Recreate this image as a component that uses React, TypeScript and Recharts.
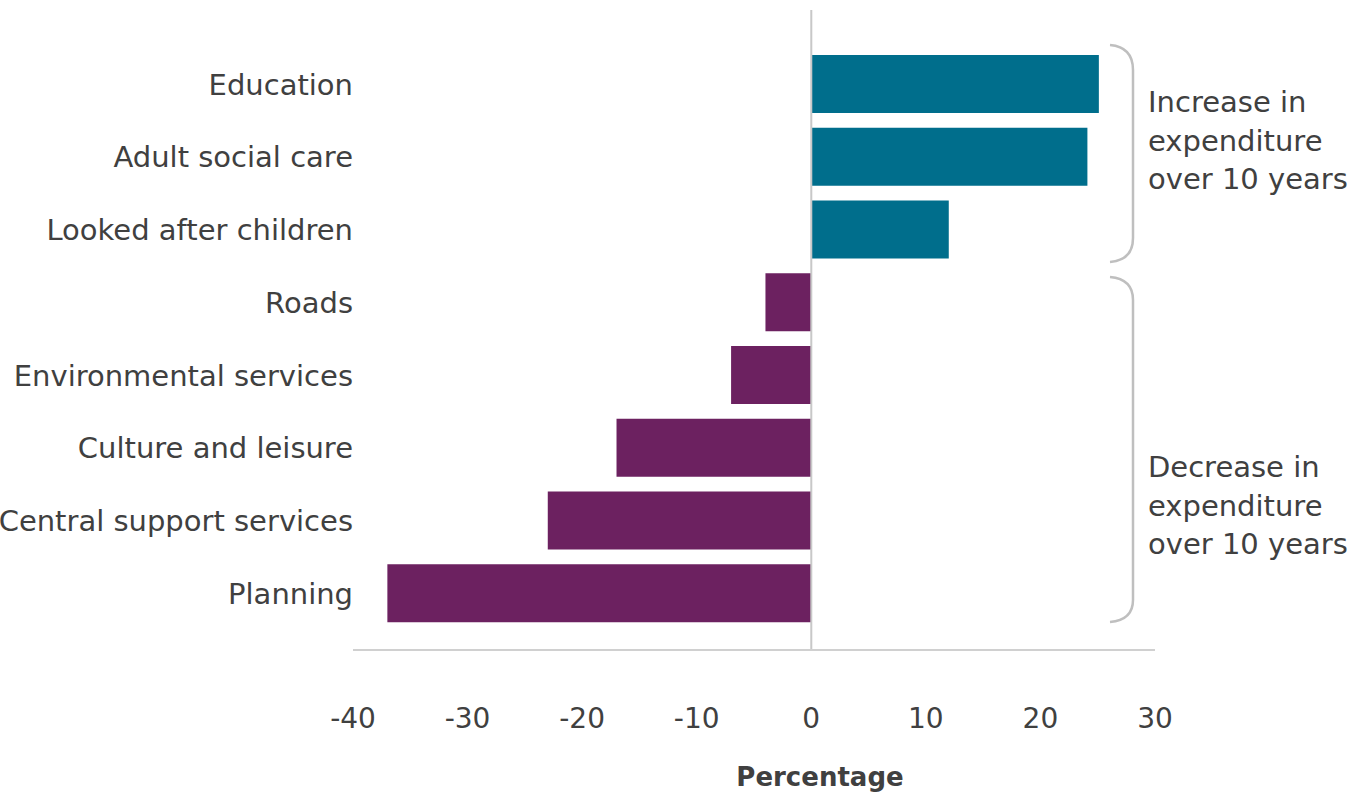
import React from 'react';
import { BarChart, Bar, XAxis, YAxis, Cell, ReferenceLine, Customized } from 'recharts';

const categories = [
  'Education',
  'Adult social care',
  'Looked after children',
  'Roads',
  'Environmental services',
  'Culture and leisure',
  'Central support services',
  'Planning',
];
const changes = [25.1, 24.1, 12.0, -4.0, -7.0, -17.0, -23.0, -37.0];
const xTicks = [-40, -30, -20, -10, 0, 10, 20, 30];
const increaseLines = ['Increase in', 'expenditure', 'over 10 years'];
const decreaseLines = ['Decrease in', 'expenditure', 'over 10 years'];

const TEAL = '#006E8C';
const PURPLE = '#6C2160';
const TEXT = '#404040';
const FONT = '"DejaVu Sans", Verdana, sans-serif';

const data = categories.map((name, i) => ({ name, value: changes[i] }));

const Annotations = () => (
  <g>
    <path
      d="M1110,45 Q1133,47 1133,70 L1133,238 Q1133,260 1110,262"
      fill="none"
      stroke="#BFBFBF"
      strokeWidth={2.5}
    />
    <path
      d="M1110,277 Q1133,279 1133,300 L1133,600 Q1133,620 1110,622"
      fill="none"
      stroke="#BFBFBF"
      strokeWidth={2.5}
    />
    {increaseLines.map((t, i) => (
      <text key={'i' + i} x={1148} y={112 + i * 38.5} fill={TEXT} fontSize={29} fontFamily={FONT}>
        {t}
      </text>
    ))}
    {decreaseLines.map((t, i) => (
      <text key={'d' + i} x={1148} y={477 + i * 38.5} fill={TEXT} fontSize={29} fontFamily={FONT}>
        {t}
      </text>
    ))}
    <text
      x={820}
      y={786}
      textAnchor="middle"
      fill={TEXT}
      fontSize={26}
      fontWeight="bold"
      fontFamily={FONT}
    >
      Percentage
    </text>
  </g>
);

export default function App() {
  return (
    <div style={{ position: 'absolute', left: 0, top: 0, background: '#fff' }}>
      <BarChart
        width={1357}
        height={793}
        data={data}
        layout="vertical"
        margin={{ top: 10, right: 202, bottom: 0, left: 0 }}
      >
        <XAxis
          type="number"
          domain={[-40, 30]}
          ticks={xTicks}
          allowDataOverflow
          height={143}
          tickLine={false}
          tickSize={0}
          tickMargin={58}
          axisLine={{ stroke: '#D0D0D0', strokeWidth: 2 }}
          tick={{ fill: TEXT, fontSize: 28, fontFamily: FONT }}
        />
        <YAxis
          type="category"
          dataKey="name"
          width={353}
          padding={{ top: 38, bottom: 20 }}
          tickLine={false}
          axisLine={false}
          tickSize={0}
          tickMargin={0}
          interval={0}
          tick={{ fill: TEXT, fontSize: 29, fontFamily: FONT }}
        />
        <ReferenceLine x={0} stroke="#C8C8C8" strokeWidth={2} />
        <Bar dataKey="value" barSize={58} isAnimationActive={false}>
          {data.map((d, i) => (
            <Cell key={i} fill={d.value >= 0 ? TEAL : PURPLE} />
          ))}
        </Bar>
        <Customized component={Annotations} />
      </BarChart>
    </div>
  );
}
